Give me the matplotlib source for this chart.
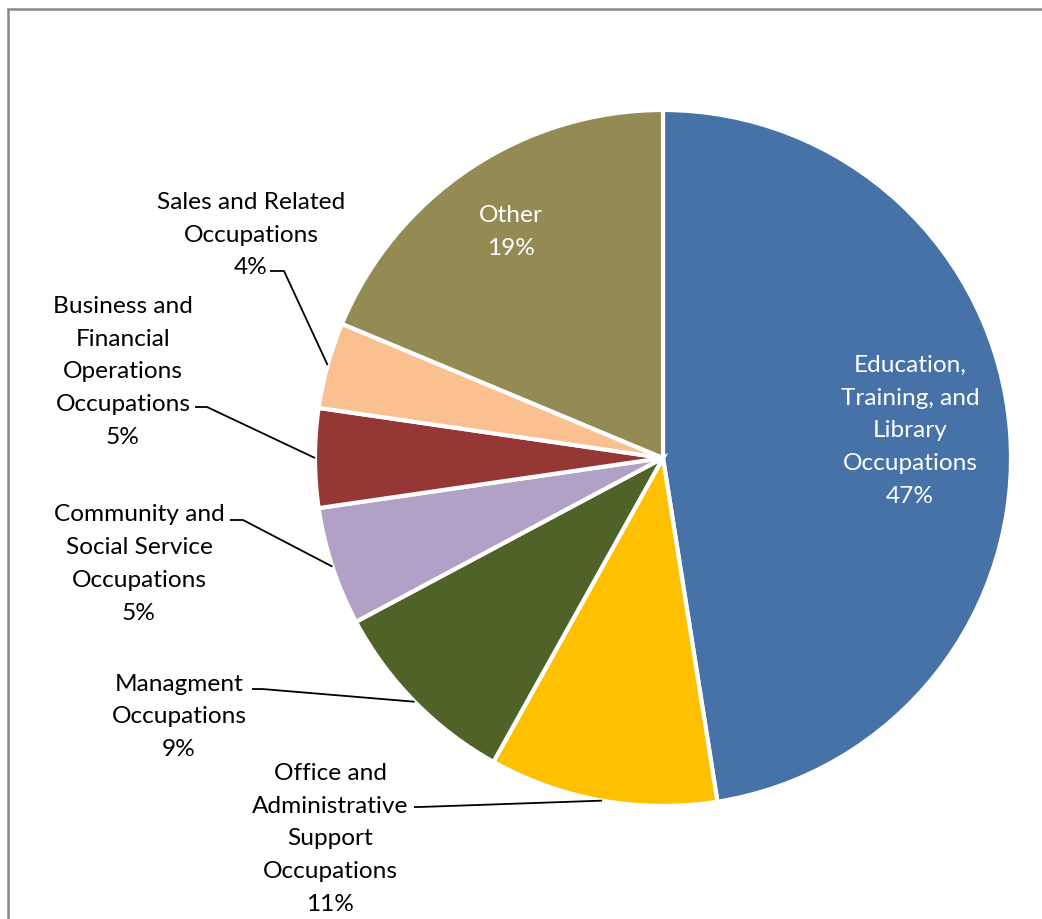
import numpy as np
import matplotlib
matplotlib.use("Agg")
import matplotlib.pyplot as plt
from matplotlib.patches import Rectangle

categories = [
    "Education,\nTraining, and\nLibrary\nOccupations",
    "Office and\nAdministrative\nSupport\nOccupations",
    "Managment\nOccupations",
    "Community and\nSocial Service\nOccupations",
    "Business and\nFinancial\nOperations\nOccupations",
    "Sales and Related\nOccupations",
    "Other",
]
values = [47.5, 10.6, 9.1, 5.5, 4.6, 4.0, 18.7]
pct_labels = ["47%", "11%", "9%", "5%", "5%", "4%", "19%"]
colors = ["#4672A7", "#FFC000", "#4F6228", "#B2A1C7", "#953735", "#FAC090", "#948A54"]

W, H = 1042, 920
fig = plt.figure(figsize=(W / 100, H / 100), dpi=100)
ax = fig.add_axes([0, 0, 1, 1])

cx, cy, R = 663, H - 459, 348
wedges, _ = ax.pie(values, colors=colors, startangle=90, counterclock=False,
                   center=(cx, cy), radius=R,
                   wedgeprops=dict(edgecolor="white", linewidth=3))
ax.set_xlim(0, W)
ax.set_ylim(0, H)
ax.set_aspect("equal")
ax.axis("off")

# frame border (left and top visible)
ax.add_patch(Rectangle((8, -20), W + 20, H - 10 + 20, fill=False,
                       edgecolor="#868686", linewidth=1.8))

font = "Lato"
fs = 17.6
ls = 1.69

# label layout: (x, y) center of text block in image px, color, leader (start, elbow) or None
layout = [
    (910, 431, "white", None),
    (330, 839, "black", ((414, 808), (420, 808))),
    (179, 717, "black", ((252, 690), (262, 690))),
    (139, 564, "black", ((230, 521), (243, 521))),
    (123, 372, "black", ((195, 408), (207, 408))),
    (251, 235, "black", ((270, 272), (284, 272))),
    (511, 232, "white", None),
]

for w, cat, pct, (lx, ly, col, lead) in zip(wedges, categories, pct_labels, layout):
    ax.text(lx, H - ly, cat + "\n" + pct, ha="center", va="center",
            color=col, fontsize=fs, family=font, linespacing=ls)
    if lead is not None:
        mid = np.deg2rad((w.theta1 + w.theta2) / 2)
        ex, ey = cx + R * np.cos(mid), cy + R * np.sin(mid)
        (sx, sy), (bx, by) = lead
        ax.plot([sx, bx, ex], [H - sy, H - by, ey], color="black", lw=1.3,
                solid_capstyle="butt")

fig.savefig("out.png", dpi=100)
